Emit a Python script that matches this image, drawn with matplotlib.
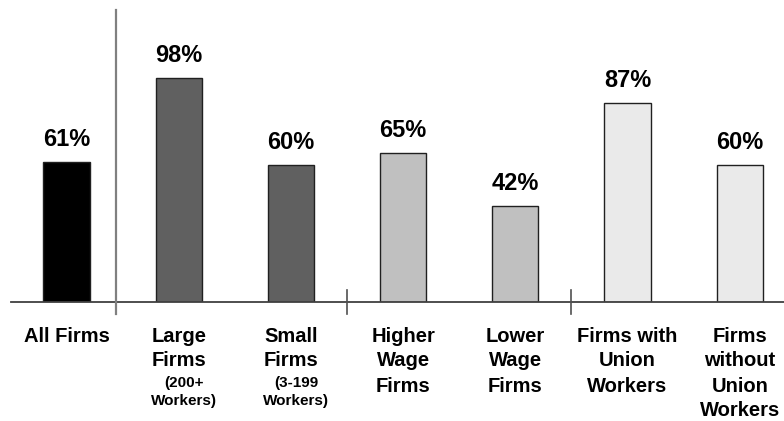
import matplotlib
matplotlib.use("Agg")
import matplotlib.pyplot as plt

categories = ["All Firms", "Large\nFirms", "Small\nFirms", "Higher\nWage\nFirms",
              "Lower\nWage\nFirms", "Firms with\nUnion\nWorkers", "Firms\nwithout\nUnion\nWorkers"]
sublabels = ["", "(200+\nWorkers)", "(3-199\nWorkers)", "", "", "", ""]
values = [61, 98, 60, 65, 42, 87, 60]
value_labels = ["61%", "98%", "60%", "65%", "42%", "87%", "60%"]
colors = ["#000000", "#606060", "#606060", "#C0C0C0", "#C0C0C0", "#EAEAEA", "#EAEAEA"]

plt.rcParams['font.family'] = ['Liberation Sans', 'DejaVu Sans']

W, H = 784, 421
fig = plt.figure(figsize=(W / 100, H / 100), dpi=100)
ax_left, ax_bottom_px, ax_top_px = 11, 301.5, 0
ax = fig.add_axes([ax_left / W, (H - ax_bottom_px) / H, (W - ax_left) / W, (ax_bottom_px - ax_top_px) / H])

x = list(range(len(values)))
px_per_unit = 112.2
x0_px = 66.5
ax.set_xlim((ax_left - x0_px) / px_per_unit, (W - x0_px) / px_per_unit)
ppv = 2.28
ax.set_ylim(0, (ax_bottom_px - ax_top_px) / ppv)

ax.bar(x, values, width=0.41, color=colors, edgecolor="#202020", linewidth=1.0, zorder=2)

for i, (v, lab) in enumerate(zip(values, value_labels)):
    ax.annotate(lab, (i, v), xytext=(0, 8), textcoords="offset points",
                ha="center", va="bottom", fontsize=17, fontweight="bold")

for s in ["top", "right", "left"]:
    ax.spines[s].set_visible(False)
ax.spines["bottom"].set_color("#404040")
ax.spines["bottom"].set_linewidth(1.3)
ax.set_xticks([])
ax.set_yticks([])

# separators
def yv(px):
    return (ax_bottom_px - px) / ppv

ax.plot([(116 - x0_px) / px_per_unit] * 2, [yv(10), yv(314)], color="#808080", lw=1.6, clip_on=False, zorder=3)
for xp in (347, 570.5):
    ax.plot([(xp - x0_px) / px_per_unit] * 2, [yv(290), yv(314)], color="#505050", lw=1.2, clip_on=False, zorder=3)

# category labels
for i, (c, s) in enumerate(zip(categories, sublabels)):
    ax.text(i, yv(326.5), c, ha="center", va="top", fontsize=14.5, fontweight="bold",
            linespacing=1.40)
    if s:
        ax.text(i + 5 / px_per_unit, yv(376), s, ha="center", va="top", fontsize=11,
                fontweight="bold", linespacing=1.37)

fig.savefig("out.png", dpi=100)
